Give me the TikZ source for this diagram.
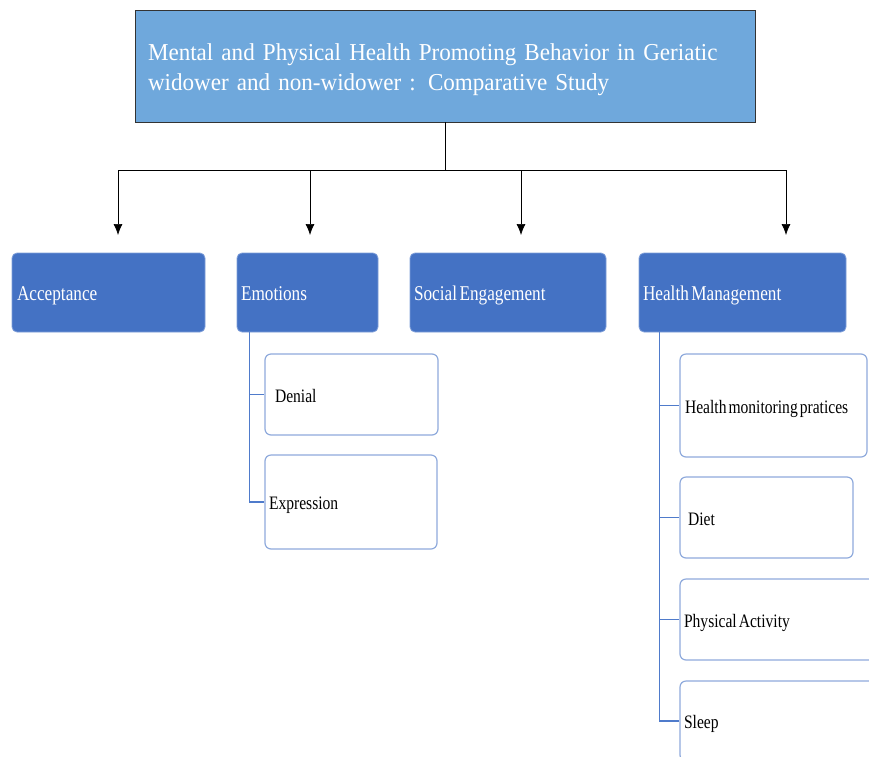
\documentclass[tikz,border=0pt]{standalone}
\usepackage{fontspec}
\setmainfont{Liberation Serif}
\newfontfamily\titlefont[FakeStretch=0.95]{Liberation Serif}
\newfontfamily\narrowfont[FakeStretch=0.82]{Liberation Serif}
\newcommand\titlesel{\titlefont\fontsize{24.3}{30}\selectfont}
\newcommand\mainsel{\narrowfont\fontsize{21}{25}\selectfont}
\newcommand\subsel{\narrowfont\fontsize{19}{23}\selectfont}
\newcommand\mwsp{\hspace{2.5pt}}
\newcommand\swsp{\hspace{2pt}}
\usetikzlibrary{arrows.meta}
\definecolor{titleblue}{HTML}{6FA8DC}
\definecolor{mainblue}{HTML}{4472C4}
\definecolor{mainborder}{HTML}{7F9FD9}
\definecolor{subborder}{HTML}{8FAADC}
\definecolor{subline}{HTML}{4F7BCB}
\definecolor{titleborder}{HTML}{333333}
\tikzset{
  titlebox/.style={draw=titleborder, fill=titleblue, line width=0.9pt, text=white,
    font=\titlesel, align=left, inner ysep=0pt},
  mainbox/.style={draw=mainborder, fill=mainblue, rounded corners=5pt, line width=0.8pt,
    text=white, font=\mainsel, align=left, inner ysep=0pt,
    minimum height=79pt, text height=18pt, text depth=3pt},
  subbox/.style={draw=subborder, fill=white, rounded corners=6pt, line width=1.2pt,
    text=black, font=\subsel, align=left, inner ysep=0pt,
    text height=18pt, text depth=3pt},
  conn/.style={draw=black, line width=0.7pt},
  arr/.style={conn, -{Latex[length=11pt,width=9pt]}},
  subconn/.style={draw=subline, line width=1.7pt},
}
\begin{document}
\begin{tikzpicture}[x=1pt,y=-1pt]
\useasboundingbox (0,0) rectangle (869,756);
\fill[white] (0,0) rectangle (869,756);
\clip (0,0) rectangle (869,756);

% title
\node[titlebox, minimum width=620pt, minimum height=112pt, inner xsep=13pt, text width=594pt]
  (title) at (445,66) {\rule{0pt}{25pt}Mental and Physical Health Promoting Behavior in Geriatic\\widower and non-widower : Comparative Study};

% main boxes
\node[mainbox, minimum width=193pt, inner xsep=5pt, text width=183pt] (acc) at (108.5,292.5) {Acceptance};
\node[mainbox, minimum width=141pt, inner xsep=4pt, text width=133pt] (emo) at (307.5,292.5) {Emotions};
\node[mainbox, minimum width=196pt, inner xsep=4pt, text width=188pt] (soc) at (508,292.5) {Social\mwsp Engagement};
\node[mainbox, minimum width=207pt, inner xsep=4pt, text width=199pt] (hm) at (742.5,292.5) {Health\mwsp Management};

% sub boxes
\node[subbox, minimum width=173pt, minimum height=81pt, inner xsep=10pt, text width=153pt] (denial) at (351.5,394.5) {Denial};
\node[subbox, minimum width=172pt, minimum height=94pt, inner xsep=4pt, text width=164pt] (expr) at (351,502) {Expression};
\node[subbox, minimum width=187pt, minimum height=103pt, inner xsep=5pt, text width=177pt] (hmp) at (773.5,405.5) {Health\swsp monitoring\swsp pratices};
\node[subbox, minimum width=173pt, minimum height=81pt, inner xsep=8pt, text width=157pt] (diet) at (766.5,517.5) {Diet};
\node[subbox, minimum width=210pt, minimum height=81pt, inner xsep=4pt, text width=202pt] (pa) at (785,619.5) {Physical\swsp Activity};
\node[subbox, minimum width=210pt, minimum height=80pt, inner xsep=4pt, text width=202pt] (sleep) at (785,721) {Sleep};

% connectors from title
\coordinate (bus) at (444,170);
\coordinate (t1) at (118,235);
\coordinate (t2) at (310,235);
\coordinate (t3) at (521,235);
\coordinate (t4) at (786,235);
\draw[conn] (title.south) -- (title.south |- bus);
\draw[conn] (t1 |- bus) -- (t4 |- bus);
\foreach \t in {t1,t2,t3,t4} \draw[arr] (\t |- bus) -- (\t);

% sub connectors
\coordinate (ej) at ([xshift=13pt]emo.south west);
\draw[subconn] (ej) |- (denial.west);
\draw[subconn] (ej) |- (expr.west);
\coordinate (hj) at ([xshift=21pt]hm.south west);
\draw[subconn] (hj) |- (hmp.west);
\draw[subconn] (hj) |- (diet.west);
\draw[subconn] (hj) |- (pa.west);
\draw[subconn] (hj) |- (sleep.west);
\end{tikzpicture}
\end{document}
